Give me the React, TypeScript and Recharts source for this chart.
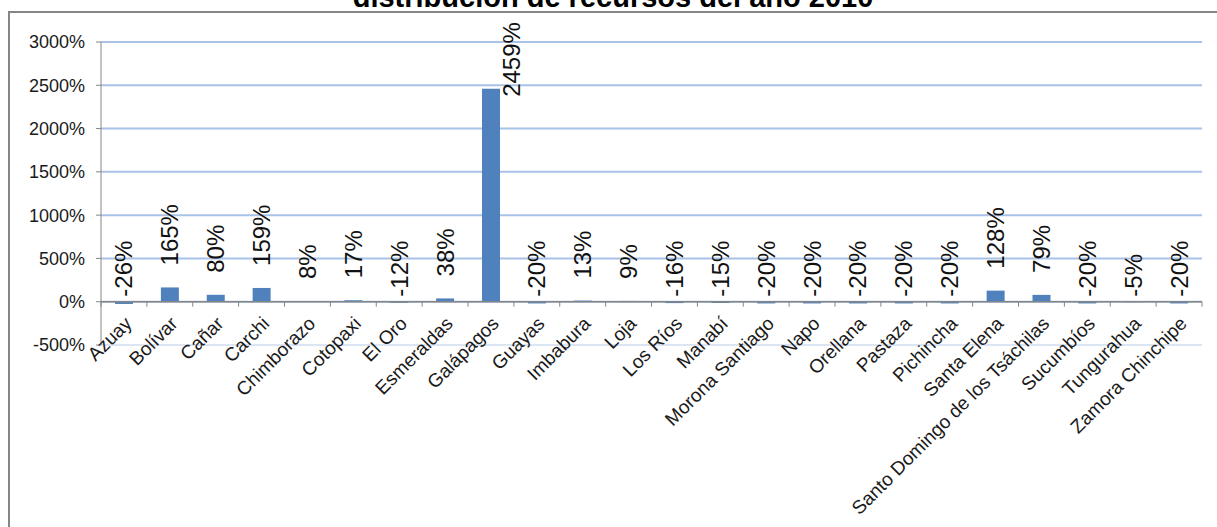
import { BarChart, Bar, XAxis, YAxis, CartesianGrid, ReferenceLine, LabelList } from "recharts";

const provinces = [
  "Azuay", "Bolívar", "Cañar", "Carchi", "Chimborazo", "Cotopaxi", "El Oro", "Esmeraldas",
  "Galápagos", "Guayas", "Imbabura", "Loja", "Los Ríos", "Manabí", "Morona Santiago", "Napo",
  "Orellana", "Pastaza", "Pichincha", "Santa Elena", "Santo Domingo de los Tsáchilas",
  "Sucumbíos", "Tungurahua", "Zamora Chinchipe",
];

// percentage change per province
const changePct = [
  -26, 165, 80, 159, 8, 17, -12, 38,
  2459, -20, 13, 9, -16, -15, -20, -20,
  -20, -20, -20, 128, 79,
  -20, -5, -20,
];

const yTicks = [-500, 0, 500, 1000, 1500, 2000, 2500, 3000];

const title = "distribución de recursos del año 2010";

const WIDTH = 1217;
const HEIGHT = 527;
const MARGIN = { top: 42, right: 15, bottom: 0, left: 0 };
const Y_AXIS_W = 101;
const X_AXIS_H = 182;
const PLOT_W = WIDTH - MARGIN.left - MARGIN.right - Y_AXIS_W;
const PLOT_H = HEIGHT - MARGIN.top - MARGIN.bottom - X_AXIS_H;
const PLOT_BOTTOM = MARGIN.top + PLOT_H;
const Y_MIN = yTicks[0];
const Y_MAX = yTicks[yTicks.length - 1];

const FONT = '"Liberation Sans", Arial, sans-serif';
const AXIS_COLOR = "#868686";
const GRID_COLOR = "#a8c2e8";
const GRID_LIGHT = "#dbe5f3";
const BAR_COLOR = "#4f81bd";
const LABEL_SIZE = 24;
const FRAME_TOP = 12;

const data = provinces.map((name, i) => ({ name, value: changePct[i] }));

/** Category tick drawn at the zero line instead of the plot bottom. */
function CategoryTick(props: any) {
  const { x, y, payload, index } = props;
  // distance from plot bottom (-500%) up to the 0% line
  const zeroY = y - (PLOT_H * (0 - Y_MIN)) / (Y_MAX - Y_MIN);
  const step = PLOT_W / provinces.length;
  const tx = x + 9;
  const ty = zeroY + 23;
  return (
    <g>
      <line x1={x - step / 2} x2={x - step / 2} y1={zeroY} y2={zeroY + 5} stroke={AXIS_COLOR} />
      {index === provinces.length - 1 && (
        <line x1={x + step / 2} x2={x + step / 2} y1={zeroY} y2={zeroY + 5} stroke={AXIS_COLOR} />
      )}
      <text
        x={tx}
        y={ty}
        textAnchor="end"
        transform={`rotate(-45 ${tx} ${ty})`}
        fontSize={19}
        fontFamily={FONT}
        fill="#1a1a1a"
      >
        {payload.value}
      </text>
    </g>
  );
}

/** Vertical value label; moved beside the bar when it would leave the frame. */
function ValueLabel(props: any) {
  const { x, y, width, height, value } = props;
  const top = Math.min(y, y + height);
  const text = `${value}%`;
  const estLen = text.length * LABEL_SIZE * 0.6;
  let bx = x + width / 2;
  let by = value >= 0 ? top - 22 : top - 5;
  if (value >= 0 && by - estLen < FRAME_TOP) {
    bx = x + width + 12;
    by = top + 8;
  }
  return (
    <text
      x={bx}
      y={by}
      textAnchor="start"
      dominantBaseline="central"
      transform={`rotate(-90 ${bx} ${by})`}
      fontSize={LABEL_SIZE}
      fontFamily={FONT}
      fill="#111"
    >
      {text}
    </text>
  );
}

function GridLine(props: any) {
  const { x1, x2, y1, y2 } = props;
  const isBottom = Math.abs(y1 - PLOT_BOTTOM) < 1;
  return (
    <line x1={x1} x2={x2} y1={y1} y2={y2} stroke={isBottom ? GRID_LIGHT : GRID_COLOR} strokeWidth={2} />
  );
}

export default function App(): React.JSX.Element {
  return (
    <div
      style={{
        position: "fixed",
        left: 0,
        top: 0,
        width: WIDTH,
        height: HEIGHT,
        overflow: "hidden",
        background: "#fff",
        fontFamily: FONT,
      }}
    >
      <svg width={WIDTH} height={HEIGHT} style={{ position: "absolute", left: 0, top: 0 }}>
        <path
          d={`M9 ${HEIGHT + 10} V${FRAME_TOP} H${WIDTH + 10}`}
          fill="none"
          stroke={AXIS_COLOR}
          strokeWidth={2}
        />
        <text x={613} y={7} textAnchor="middle" fontSize={29} fontWeight="bold" fontFamily={FONT} fill="#000">
          {title}
        </text>
      </svg>
      <div style={{ position: "absolute", left: 0, top: 0 }}>
        <BarChart width={WIDTH} height={HEIGHT} data={data} margin={MARGIN}>
          <CartesianGrid
            vertical={false}
            horizontal={(p: any) => <GridLine key={`g-${p.index}`} {...p} />}
          />
          <XAxis
            dataKey="name"
            height={X_AXIS_H}
            interval={0}
            axisLine={false}
            tickLine={false}
            tickSize={0}
            tickMargin={0}
            tick={<CategoryTick />}
          />
          <YAxis
            width={Y_AXIS_W}
            domain={[Y_MIN, Y_MAX]}
            ticks={yTicks}
            tickFormatter={(v: number) => `${v}%`}
            axisLine={{ stroke: AXIS_COLOR }}
            tickLine={{ stroke: AXIS_COLOR }}
            tickSize={5}
            tickMargin={11}
            tick={{ fontSize: 18, fill: "#1a1a1a", fontFamily: FONT }}
            interval={0}
          />
          <ReferenceLine y={0} stroke={AXIS_COLOR} strokeWidth={1.5} />
          <Bar dataKey="value" fill={BAR_COLOR} barSize={18} isAnimationActive={false}>
            <LabelList dataKey="value" content={<ValueLabel />} />
          </Bar>
        </BarChart>
      </div>
    </div>
  );
}
